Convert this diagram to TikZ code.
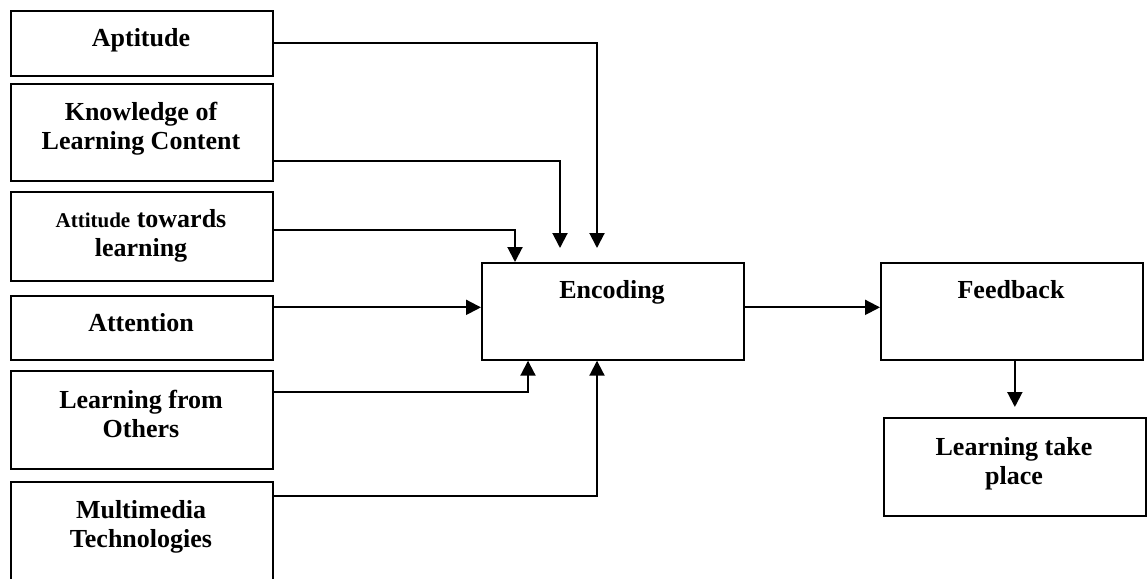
\documentclass[tikz,border=0pt]{standalone}
\usepackage{fontspec}
\setmainfont{Liberation Serif}
\usetikzlibrary{arrows.meta,calc}
\begin{document}
\begin{tikzpicture}[x=1pt,y=-1pt,
  box/.style={draw, line width=1.7pt, inner sep=0pt, minimum width=262pt, anchor=north west},
  txt/.style={font=\fontsize{26}{29}\selectfont\bfseries, align=center, inner sep=0pt, anchor=base},
  arr/.style={line width=2pt, -{Triangle[length=15pt,width=15pt]}}]
\useasboundingbox (0,0) rectangle (1147,578);
\clip (0,0) rectangle (1147,578);
% left column boxes
\node[box, minimum height=65pt] (apt) at (10,10) {};
\node[box, minimum height=97pt] (know) at (10,83) {};
\node[box, minimum height=89pt] (att) at (10,191) {};
\node[box, minimum height=64pt] (atn) at (10,295) {};
\node[box, minimum height=98pt] (lfo) at (10,370) {};
\node[box, minimum height=120pt] (mm) at (10,481) {};
% right boxes
\node[box, minimum height=97pt] (enc) at (481,262) {};
\node[box, minimum height=97pt] (fb) at (880,262) {};
\node[box, minimum height=98pt] (lt) at (883,417) {};
% texts
\node[txt] (tapt) at (141,47) {Aptitude};
\node[txt] (tknow) at (141,149) {Knowledge of\\Learning Content};
\node[txt] (tatt) at (141,256) {{\fontsize{21}{29}\selectfont Attitude} towards\\learning};
\node[txt] (tatn) at (141,331) {Attention};
\node[txt] (tlfo) at (141,437) {Learning from\\Others};
\node[txt] (tmm) at (141,547) {Multimedia\\Technologies};
\node[txt] (tenc) at (612,298) {Encoding};
\node[txt] (tfb) at (1011,298) {Feedback};
\node[txt] (tlt) at (1014,484) {Learning take\\place};
% connectors
\coordinate (encin) at ($(enc.west)+(0,-4)$);
\coordinate (encout) at ($(enc.east)+(0,-4)$);
\draw[arr] (apt.east) -| ($(enc.north west)+(116,-14)$);
\draw[arr] ($(know.east)+(0,29)$) -| ($(enc.north west)+(79,-14)$);
\draw[arr] ($(att.east)+(0,-6.5)$) -| ($(enc.north west)+(34,0)$);
\draw[arr] (atn.east |- encin) -- (encin);
\draw[arr] ($(lfo.east)+(0,-28)$) -| ($(enc.south west)+(47,0)$);
\draw[arr] ($(mm.north east)+(0,15)$) -| ($(enc.south west)+(116,0)$);
\draw[arr] (encout) -- (fb.west |- encout);
\draw[arr] (fb.south -| lt.north) -- ($(lt.north)+(0,-10)$);
\end{tikzpicture}
\end{document}
